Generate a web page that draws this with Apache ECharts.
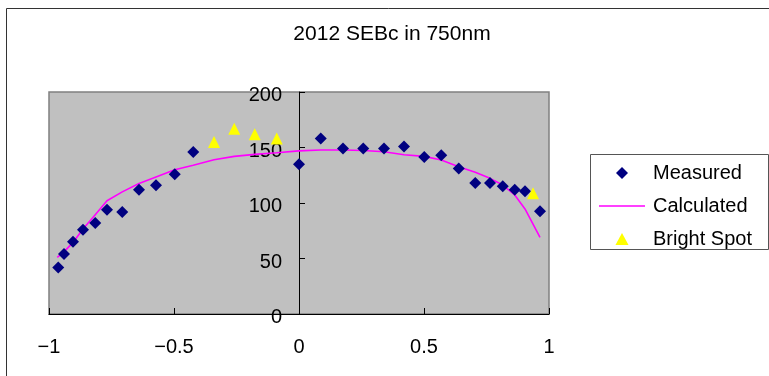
<!DOCTYPE html>
<html>
<head>
<meta charset="utf-8">
<script src="https://cdn.jsdelivr.net/npm/echarts@6/dist/echarts.min.js"></script>
<style>
html,body{margin:0;padding:0;background:#fff;}
#chart{width:769px;height:376px;}
</style>
</head>
<body>
<div id="chart"></div>
<script>
const titleText = '2012 SEBc in 750nm';
const measuredX = [-0.963, -0.94, -0.904, -0.864, -0.815, -0.768, -0.707, -0.64, -0.572, -0.497, -0.423, 0.0, 0.087, 0.176, 0.257, 0.34, 0.42, 0.501, 0.569, 0.639, 0.705, 0.764, 0.815, 0.863, 0.904, 0.964];
const measuredY = [42, 54, 65, 76, 82, 94, 92, 112, 116, 126, 146, 135, 158, 149, 149, 149, 151, 141.5, 143, 131, 118, 118, 115, 112, 110.5, 92.5];
const calcX = [-0.967, -0.94, -0.904, -0.864, -0.815, -0.768, -0.707, -0.64, -0.572, -0.497, -0.423, -0.34, -0.259, -0.177, -0.089, 0.0, 0.087, 0.176, 0.257, 0.34, 0.42, 0.501, 0.569, 0.639, 0.705, 0.764, 0.815, 0.863, 0.904, 0.964];
const calcY = [51, 56, 64.5, 76.5, 89.5, 102, 110, 117.5, 123.5, 130, 134, 139, 142, 143.8, 145.3, 147, 147.7, 147.7, 147.3, 146.2, 143.5, 142, 138.7, 132.7, 127.6, 122.2, 116.2, 107.2, 94.6, 69];
const brightX = [-0.34, -0.259, -0.177, -0.089, 0.936];
const brightY = [155, 167, 162, 158, 108.7];
const xTicks = { min: -1, max: 1, interval: 0.5 };
const yTicks = { min: 0, max: 200, interval: 50 };
const legendNames = ['Measured', 'Calculated', 'Bright Spot'];

const FONT = "'Liberation Sans', Arial, sans-serif";
const zip = (a, b) => a.map((v, i) => [v, b[i]]);

const chart = echarts.init(document.getElementById('chart'), null, { renderer: 'canvas' });
chart.setOption({
  animation: false,
  backgroundColor: '#ffffff',
  textStyle: { fontFamily: FONT },
  graphic: [
    { type: 'rect', shape: { x: 6.5, y: 8.5, width: 800, height: 400 }, style: { fill: 'none', stroke: '#333', lineWidth: 1 }, silent: true, z: -10 },
    { type: 'text', x: 392, y: 34, style: { text: titleText, font: '21px ' + FONT, fill: '#000', textAlign: 'center', textVerticalAlign: 'middle' } },
    { type: 'rect', shape: { x: 590.5, y: 154.5, width: 178, height: 95 }, style: { fill: '#fff', stroke: '#555', lineWidth: 1 }, silent: true, z: 1 }
  ],
  grid: {
    left: 49, right: 220, top: 92, bottom: 62,
    outerBoundsMode: 'none', containLabel: false,
    show: true, backgroundColor: '#c0c0c0', borderColor: '#808080', borderWidth: 1.5
  },
  legend: {
    data: [
      { name: legendNames[0], icon: 'path://M5,0 L10,5 L5,10 L0,5 Z', itemStyle: { color: '#000080', opacity: 1 } },
      { name: legendNames[1], icon: 'path://M0,0 L46,0 L46,1.6 L0,1.6 Z', itemStyle: { color: '#ff00ff', opacity: 1 } },
      { name: legendNames[2], icon: 'path://M6,0 L12,11 L0,11 Z', itemStyle: { color: '#ffff00', opacity: 1 } }
    ],
    orient: 'vertical',
    left: 599, top: 163,
    padding: 0,
    itemWidth: 46, itemHeight: 12, itemGap: 13,
    symbolKeepAspect: true,
    textStyle: { fontSize: 20, color: '#000', fontFamily: FONT, lineHeight: 20, padding: [0, 0, 0, 3] },
    z: 5
  },
  xAxis: {
    type: 'value', min: xTicks.min, max: xTicks.max, interval: xTicks.interval,
    axisLine: { show: true, onZero: false, lineStyle: { color: '#000', width: 1 } },
    axisTick: { show: true, inside: true, length: 6, lineStyle: { color: '#000' } },
    splitLine: { show: false },
    axisLabel: { margin: 23, fontSize: 20, color: '#000', fontFamily: FONT,
      formatter: v => String(v).replace('-', '\u2212') }
  },
  yAxis: {
    type: 'value', min: yTicks.min, max: yTicks.max, interval: yTicks.interval,
    position: 'left', offset: -250,
    axisLine: { show: true, onZero: false, lineStyle: { color: '#000', width: 1 } },
    axisTick: { show: true, inside: true, length: 6, lineStyle: { color: '#000' } },
    splitLine: { show: false },
    axisLabel: { margin: 17, color: '#000', fontFamily: FONT,
      formatter: v => '{a|' + v + '}',
      rich: { a: { fontSize: 20, color: '#000', fontFamily: FONT, padding: [7, 0, 0, 0] } } }
  },
  series: [
    { name: 'Calculated', type: 'line', data: zip(calcX, calcY), showSymbol: false, symbol: 'none',
      lineStyle: { color: '#ff00ff', width: 1.6 }, itemStyle: { color: '#ff00ff' }, z: 2 },
    { name: 'Measured', type: 'scatter', data: zip(measuredX, measuredY), symbol: 'diamond', symbolSize: 12,
      itemStyle: { color: '#000080', opacity: 1 }, z: 3 },
    { name: 'Bright Spot', type: 'scatter', data: zip(brightX, brightY), symbol: 'triangle', symbolSize: 12,
      itemStyle: { color: '#ffff00', opacity: 1 }, z: 3 }
  ]
});
</script>
</body>
</html>
